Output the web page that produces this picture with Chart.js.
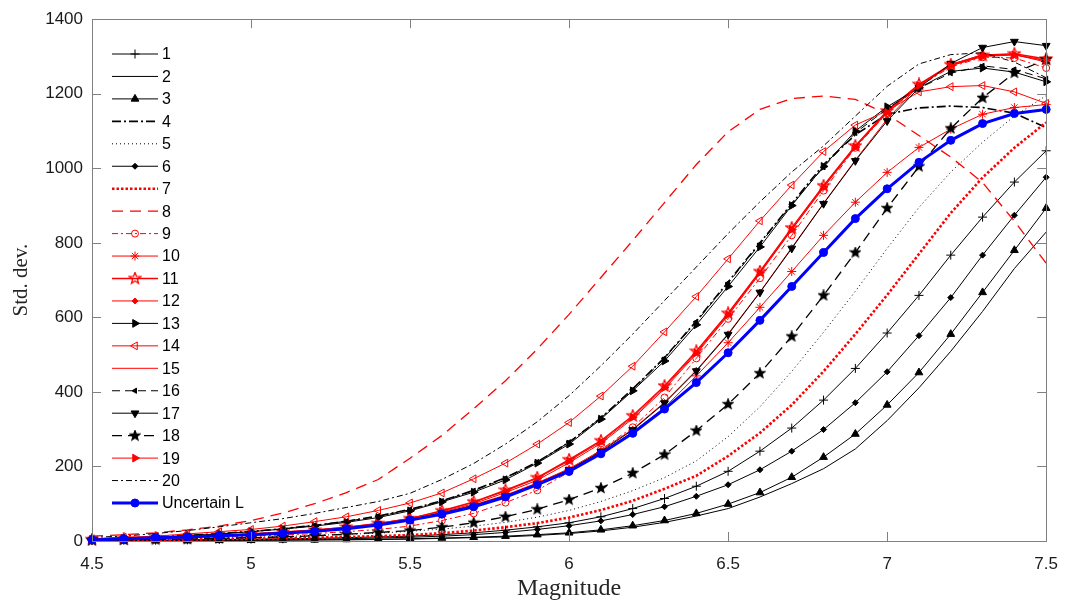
<!DOCTYPE html>
<html><head><meta charset="utf-8">
<script src="https://cdn.jsdelivr.net/npm/chart.js@4.4.1/dist/chart.umd.min.js"></script>
<style>html,body{margin:0;padding:0;background:#fff;overflow:hidden}</style>
</head><body>
<canvas id="c" width="1071" height="608"></canvas>
<script>
// ---------- DATA ----------
const magnitudes = [4.5,4.6,4.7,4.8,4.9,5.0,5.1,5.2,5.3,5.4,5.5,5.6,5.7,5.8,5.9,6.0,6.1,6.2,6.3,6.4,6.5,6.6,6.7,6.8,6.9,7.0,7.1,7.2,7.3,7.4,7.5];
const xTickValues = [4.5,5,5.5,6,6.5,7,7.5];
const xTickLabels = ['4.5','5','5.5','6','6.5','7','7.5'];
const yTickValues = [0,200,400,600,800,1000,1200,1400];
const yTickLabels = ['0','200','400','600','800','1000','1200','1400'];
const seriesNames = ['1','2','3','4','5','6','7','8','9','10','11','12','13','14','15','16','17','18','19','20','Uncertain L'];

const s1  = [1,2,2,3,4,5,6,7,9,11,13,17,22,29,38,49,65,87,114,147,187,241,303,378,463,558,659,767,869,963,1047];
const s2  = [0,1,1,1,1,2,2,3,3,4,5,7,9,11,15,20,27,37,50,67,87,118,154,194,247,323,411,509,616,731,829];
const s3  = [0,1,1,1,2,2,3,3,4,5,6,8,10,13,17,22,30,41,55,74,99,130,171,225,287,365,452,555,667,780,893];
const s4  = [5,8,11,15,20,26,33,42,53,67,85,108,136,170,212,265,330,408,492,590,695,800,905,1010,1090,1145,1162,1167,1163,1148,1109];
const s5  = [2,3,4,6,8,10,12,15,18,21,26,32,40,50,64,82,106,135,170,215,280,360,455,560,670,785,895,990,1070,1140,1195];
const s6  = [1,1,2,2,3,4,4,5,6,8,10,13,17,23,31,41,54,71,92,120,151,191,241,299,371,454,551,653,767,874,976];
const s7  = [1,2,3,4,5,6,7,9,11,13,16,21,28,37,48,63,83,108,140,175,228,290,365,455,555,660,770,880,975,1055,1123];
const s8  = [13,17,22,30,40,55,75,100,130,165,222,283,355,430,515,608,707,806,908,1010,1098,1158,1187,1194,1185,1145,1088,1030,962,858,745];
const s9  = [2,4,6,8,10,13,16,20,25,31,40,55,74,103,136,185,245,305,385,490,596,705,820,940,1055,1148,1220,1272,1298,1296,1269];
const s10 = [3,6,9,12,15,18,22,27,35,45,58,74,95,121,155,192,238,292,358,443,532,627,723,820,909,989,1056,1105,1145,1163,1171];
const s11 = [4,6,9,12,15,19,24,29,37,47,60,81,105,136,170,218,269,336,416,509,611,723,840,953,1060,1154,1225,1278,1303,1307,1293];
const s12 = [3,6,9,12,15,19,23,29,36,46,59,76,97,123,156,194,243,300,372,458,556,668,787,906,1022,1132,1222,1278,1305,1305,1285];
const s13 = [4,7,10,14,19,25,32,40,50,63,81,105,131,164,209,260,327,403,483,580,683,789,900,1005,1100,1165,1216,1260,1269,1258,1232];
const s14 = [6,10,13,19,25,31,40,52,65,82,102,129,167,209,260,318,389,469,561,656,757,859,955,1045,1116,1154,1205,1219,1222,1205,1174];
const s15 = [4,6,8,11,14,18,22,28,35,45,58,78,100,130,163,210,262,328,408,502,605,718,835,948,1057,1150,1222,1276,1301,1305,1288];
const s16 = [4,7,10,14,19,25,33,42,53,66,84,107,135,168,212,265,330,406,490,588,692,797,903,1003,1095,1160,1215,1255,1275,1265,1240];
const s17 = [3,6,9,12,15,18,22,28,35,45,58,75,95,121,153,191,240,298,370,456,554,667,785,905,1020,1127,1216,1281,1324,1340,1329];
const s18 = [2,3,4,5,7,9,11,14,18,23,28,37,49,65,85,111,142,182,232,296,367,450,549,659,774,893,1005,1107,1189,1256,1292];
const s19 = [4,6,9,12,15,19,24,30,37,47,61,80,104,134,168,215,266,332,412,505,607,720,836,950,1057,1150,1222,1275,1300,1304,1290];
const s20 = [10,13,20,28,38,49,60,74,90,106,128,165,208,260,320,390,470,555,645,735,825,910,990,1060,1140,1220,1280,1305,1310,1285,1243];
const sL  = [3,6,9,11,14,17,21,26,33,43,56,72,92,118,151,187,234,289,354,425,505,592,683,774,865,945,1016,1075,1120,1147,1158];

const seriesValues = [s1,s2,s3,s4,s5,s6,s7,s8,s9,s10,s11,s12,s13,s14,s15,s16,s17,s18,s19,s20,sL];

// ---------- STYLES ----------
function pentagram(size, color, filled) {
  const c = document.createElement('canvas');
  c.width = size; c.height = size;
  const g = c.getContext('2d');
  const cx = size/2, cy = size/2, R = size/2 - 1, r = R*0.42;
  g.beginPath();
  for (let k = 0; k < 10; k++) {
    const a = -Math.PI/2 + k*Math.PI/5, rr = (k % 2) ? r : R;
    g.lineTo(cx + rr*Math.cos(a), cy + rr*Math.sin(a));
  }
  g.closePath();
  if (filled) { g.fillStyle = color; g.fill(); }
  g.strokeStyle = color; g.lineWidth = 1.3; g.stroke();
  return c;
}
const K = '#000000', R = '#ff0000', B = '#0000ff', NONE = 'rgba(0,0,0,0)';
const styles = [
  {c:K, w:1,   d:[],         ps:'cross',    r:4.5, rot:0,   bg:K},
  {c:K, w:1,   d:[],         ps:false,      r:0},
  {c:K, w:1,   d:[],         ps:'triangle', r:4.5, rot:0,   bg:K},
  {c:K, w:1.6, d:[9,3,2,3],  ps:false,      r:0},
  {c:K, w:1,   d:[1,3],      ps:false,      r:0},
  {c:K, w:1,   d:[],         ps:'rectRot',  r:3,   rot:0,   bg:K},
  {c:R, w:2.6, d:[2.5,2],    ps:false,      r:0},
  {c:R, w:1.3, d:[11,7],     ps:false,      r:0},
  {c:R, w:1,   d:[6,3,2,3],  ps:'circle',   r:3.5, rot:0,   bg:NONE},
  {c:R, w:1,   d:[],         ps:'star',     r:4.5, rot:0,   bg:R},
  {c:R, w:1.5, d:[],         ps:pentagram(14,R,false), r:5, rot:0, bg:R},
  {c:R, w:1,   d:[],         ps:'rectRot',  r:3,   rot:0,   bg:R},
  {c:K, w:1,   d:[],         ps:'triangle', r:4.5, rot:90,  bg:K},
  {c:R, w:1,   d:[],         ps:'triangle', r:4.5, rot:-90, bg:NONE},
  {c:R, w:1,   d:[],         ps:false,      r:0},
  {c:K, w:1,   d:[8,5],      ps:'triangle', r:3,   rot:-90, bg:K},
  {c:K, w:1,   d:[],         ps:'triangle', r:4.5, rot:180, bg:K},
  {c:K, w:1.3, d:[10,6],     ps:pentagram(12,K,true), r:5, rot:0, bg:K},
  {c:R, w:1,   d:[],         ps:'triangle', r:4.5, rot:90,  bg:R},
  {c:K, w:1,   d:[6,3,2,3],  ps:false,      r:0},
  {c:B, w:3,   d:[],         ps:'circle',   r:4,   rot:0,   bg:B}
];

const N = seriesValues.length;
const datasets = seriesValues.map((vals, i) => {
  const s = styles[i];
  return {
    label: seriesNames[i],
    data: magnitudes.map((m, j) => ({x: m, y: vals[j]})),
    borderColor: s.c,
    borderWidth: s.w,
    borderDash: s.d,
    tension: 0,
    fill: false,
    clip: false,
    order: N - 1 - i,
    pointStyle: s.ps || 'circle',
    pointRadius: s.r,
    pointHoverRadius: s.r,
    pointRotation: s.rot || 0,
    pointBackgroundColor: s.bg || s.c,
    pointBorderColor: s.c,
    pointBorderWidth: 1
  };
});

// ---------- PLUGINS ----------
const axisBox = {
  id: 'axisBox',
  afterDatasetsDraw(chart) {
    const {ctx, chartArea: a, scales} = chart;
    ctx.save();
    ctx.strokeStyle = '#808080';
    ctx.lineWidth = 1;
    ctx.setLineDash([]);
    ctx.strokeRect(Math.round(a.left)+0.5, Math.round(a.top)+0.5, Math.round(a.right-a.left), Math.round(a.bottom-a.top));
    const tl = 9;
    ctx.beginPath();
    xTickValues.forEach(v => {
      const x = Math.round(scales.x.getPixelForValue(v)) + 0.5;
      ctx.moveTo(x, a.bottom); ctx.lineTo(x, a.bottom - tl);
      ctx.moveTo(x, a.top); ctx.lineTo(x, a.top + tl);
    });
    yTickValues.forEach(v => {
      const y = Math.round(scales.y.getPixelForValue(v)) + 0.5;
      ctx.moveTo(a.left, y); ctx.lineTo(a.left + tl, y);
      ctx.moveTo(a.right, y); ctx.lineTo(a.right - tl, y);
    });
    ctx.stroke();
    ctx.restore();
  }
};

function drawMarker(ctx, ds, x, y) {
  if (!(ds.pointRadius > 0)) return;
  ctx.fillStyle = ds.pointBackgroundColor;
  ctx.strokeStyle = ds.pointBorderColor;
  ctx.lineWidth = ds.pointBorderWidth;
  if (Chart.helpers && Chart.helpers.drawPoint) {
    Chart.helpers.drawPoint(ctx, {pointStyle: ds.pointStyle, rotation: ds.pointRotation, radius: ds.pointRadius, borderWidth: ds.pointBorderWidth}, x, y);
  }
}

const matlabLegend = {
  id: 'matlabLegend',
  afterDraw(chart) {
    const ctx = chart.ctx;
    chart.data.datasets.forEach((ds, i) => {
      const y = 54 + i * 22.45;
      ctx.save();
      ctx.strokeStyle = ds.borderColor;
      ctx.lineWidth = ds.borderWidth;
      ctx.setLineDash(ds.borderDash || []);
      ctx.beginPath(); ctx.moveTo(112, y); ctx.lineTo(158, y); ctx.stroke();
      ctx.setLineDash([]);
      drawMarker(ctx, ds, 135, y);
      ctx.fillStyle = '#000';
      ctx.font = '16px "Liberation Sans", Arial, sans-serif';
      ctx.textBaseline = 'middle';
      ctx.textAlign = 'left';
      ctx.fillText(ds.label, 162, y + 1);
      ctx.restore();
    });
  }
};

// ---------- CHART ----------
new Chart(document.getElementById('c'), {
  type: 'line',
  data: { datasets },
  plugins: [axisBox, matlabLegend],
  options: {
    responsive: false,
    animation: false,
    events: [],
    layout: { padding: { left: 0, right: 19, top: 15, bottom: 0 } },
    plugins: { legend: { display: false }, tooltip: { enabled: false } },
    scales: {
      x: {
        type: 'linear', min: 4.5, max: 7.5,
        grid: { display: false, drawTicks: false, tickLength: 0 },
        border: { display: false },
        afterBuildTicks: s => { s.ticks = xTickValues.map(v => ({value: v})); },
        afterFit: s => { s.height = 67; },
        ticks: {
          autoSkip: false, maxRotation: 0, padding: 13,
          color: '#1a1a1a',
          font: { family: '"Liberation Sans", Arial, sans-serif', size: 17 },
          callback: (v) => xTickLabels[xTickValues.indexOf(v)]
        },
        title: {
          display: true, text: 'Magnitude', color: '#262626',
          font: { family: '"Liberation Serif", "Times New Roman", serif', size: 24 },
          padding: { top: 0, bottom: 5 }
        }
      },
      y: {
        type: 'linear', min: 0, max: 1400,
        grid: { display: false, drawTicks: false, tickLength: 0 },
        border: { display: false },
        afterBuildTicks: s => { s.ticks = yTickValues.map(v => ({value: v})); },
        afterFit: s => { s.width = 92; },
        ticks: {
          autoSkip: false, padding: 9,
          color: '#1a1a1a',
          font: { family: '"Liberation Sans", Arial, sans-serif', size: 17 },
          callback: (v) => yTickLabels[yTickValues.indexOf(v)]
        },
        title: {
          display: true, text: 'Std. dev.', color: '#262626',
          font: { family: '"Liberation Serif", "Times New Roman", serif', size: 21 },
          padding: { top: 9, bottom: 0 }
        }
      }
    }
  }
});
</script>
</body></html>
